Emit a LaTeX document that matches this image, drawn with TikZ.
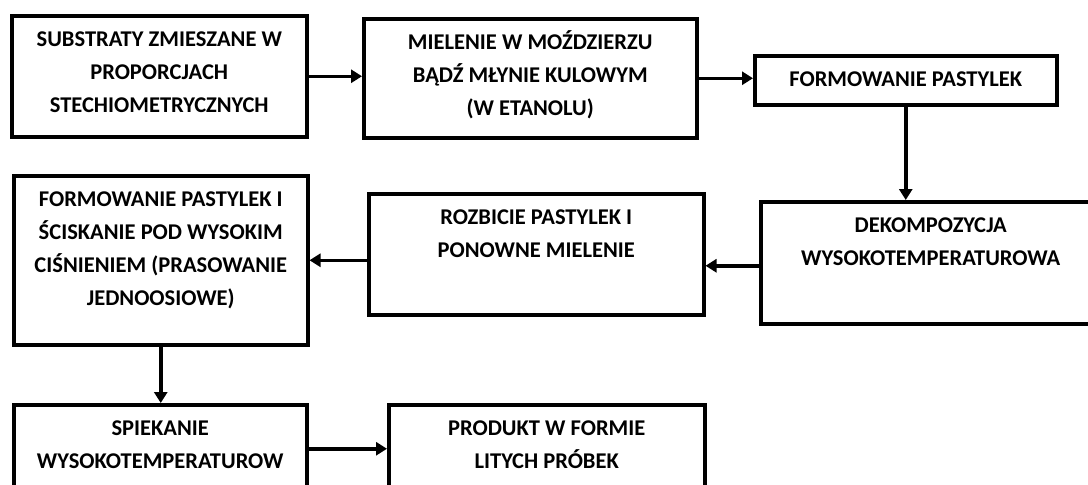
\documentclass[tikz,border=0pt]{standalone}
\usepackage{fontspec}
\setmainfont{Carlito}
\usetikzlibrary{arrows.meta}

\tikzset{
  stepbox/.style={draw, line width=3.5pt, rectangle, anchor=north west, inner sep=0pt},
  steptext/.style={anchor=north, align=center, inner sep=0pt, yshift=-9pt,
    font=\fontsize{22.5}{33}\selectfont\bfseries},
  flow/.style={line width=3.5pt, -{Triangle[length=11pt,width=13pt]}}
}

\begin{document}
\begin{tikzpicture}[x=1pt,y=-1pt]
\clip (0,0) rectangle (1088,485);

% boxes
\node[stepbox, minimum width=295pt, minimum height=121pt] (sub) at (10,14) {};
\node[stepbox, minimum width=333pt, minimum height=119pt] (miel) at (362,17) {};
\node[stepbox, minimum width=302pt, minimum height=49pt] (past) at (753,54) {};
\node[stepbox, minimum width=340pt, minimum height=122pt] (dek) at (759,200) {};
\node[stepbox, minimum width=335pt, minimum height=121pt] (rozb) at (367,192) {};
\node[stepbox, minimum width=294pt, minimum height=169pt] (pras) at (12,174) {};
\node[stepbox, minimum width=293pt, minimum height=88pt] (spiek) at (12,403) {};
\node[stepbox, minimum width=316pt, minimum height=88pt] (prod) at (387,403) {};

% texts
\node[steptext] (tsub) at (sub.north) {\strut SUBSTRATY ZMIESZANE W\\PROPORCJACH\\STECHIOMETRYCZNYCH};
\node[steptext] (tmiel) at (miel.north) {\strut MIELENIE W MOŹDZIERZU\\BĄDŹ MŁYNIE KULOWYM\\(W ETANOLU)};
\node[steptext] (tpast) at (past.north) {\strut FORMOWANIE PASTYLEK};
\node[steptext] (tdek) at (dek.north) {\strut DEKOMPOZYCJA\\WYSOKOTEMPERATUROWA};
\node[steptext] (trozb) at (rozb.north) {\strut ROZBICIE PASTYLEK I\\PONOWNE MIELENIE};
\node[steptext] (tpras) at (pras.north) {\strut FORMOWANIE PASTYLEK I\\ŚCISKANIE POD WYSOKIM\\CIŚNIENIEM (PRASOWANIE\\JEDNOOSIOWE)};
\node[steptext] (tspiek) at (spiek.north) {\strut SPIEKANIE\\WYSOKOTEMPERATUROW};
\node[steptext] (tprod) at (prod.north) {\strut PRODUKT W FORMIE\\LITYCH PRÓBEK};

% arrows
\draw[flow] (sub.east) -- (sub.east -| miel.west);
\draw[flow] (miel.east) -- (miel.east -| past.west);
\draw[flow] (past.south) -- (past.south |- dek.north);
\draw[flow] ([yshift=-3pt]dek.west) -- ([yshift=-3pt]dek.west -| rozb.east);
\draw[flow] (pras.east -| rozb.west) -- (pras.east);
\draw[flow] (pras.south) -- (pras.south |- spiek.north);
\draw[flow] (spiek.east) -- (spiek.east -| prod.west);
\end{tikzpicture}
\end{document}
